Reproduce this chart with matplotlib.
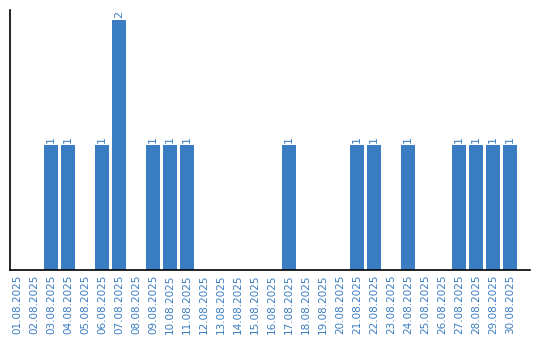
import matplotlib
matplotlib.use("Agg")
import matplotlib.pyplot as plt
import numpy as np

dates = ["%02d.08.2025" % d for d in range(1, 31)]
counts = [0, 0, 1, 1, 0, 1, 2, 0, 1, 1, 1, 0, 0, 0, 0, 0, 1, 0, 0, 0,
          1, 1, 0, 1, 0, 0, 1, 1, 1, 1]

blue = "#3b7dc2"

fig = plt.figure(figsize=(5.4, 3.4), dpi=100)
ax = fig.add_axes([10 / 540, 70 / 340, 520 / 540, 260 / 340])

x = np.arange(len(dates))
ax.bar(x, counts, width=0.82, color=blue)

for xi, c in zip(x, counts):
    if c > 0:
        ax.text(xi, c + 0.02, str(c), rotation=90, ha="center", va="bottom",
                color=blue, fontsize=8)

ax.set_xlim(-0.41, 30.18)
ax.set_ylim(0, 2.08)
ax.set_xticks(x)
ax.set_xticklabels(dates, rotation=90, color=blue, fontsize=7.5)
ax.tick_params(axis="x", length=0, pad=3)
ax.set_yticks([])
ax.spines["top"].set_visible(False)
ax.spines["right"].set_visible(False)
ax.spines["left"].set_linewidth(1.2)
ax.spines["bottom"].set_linewidth(1.2)

fig.savefig("out.png", dpi=100)
